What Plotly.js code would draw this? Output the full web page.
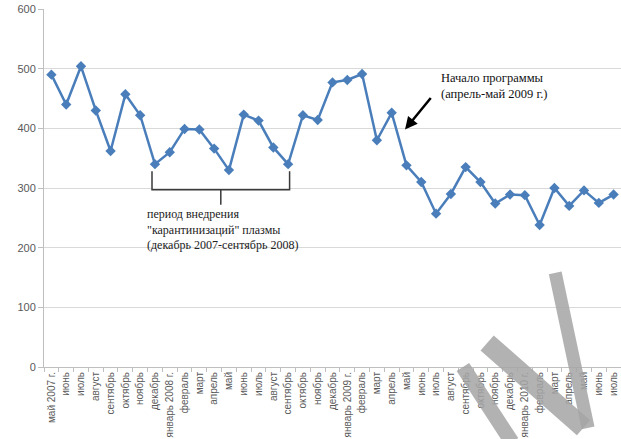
<!DOCTYPE html>
<html>
<head>
<meta charset="utf-8">
<script src="https://cdn.plot.ly/plotly-3.0.1.min.js"></script>
<style>html,body{margin:0;padding:0;background:#fff;}#chart{width:621px;height:439px;}</style>
</head>
<body>
<div id="chart"></div>
<script>
const monthLabels = ["май 2007 г.","июнь","июль","август","сентябрь","октябрь","ноябрь","декабрь",
  "январь 2008 г.","февраль","март","апрель","май","июнь","июль","август","сентябрь","октябрь","ноябрь","декабрь",
  "январь 2009 г.","февраль","март","апрель","май","июнь","июль","август","сентябрь","октябрь","ноябрь","декабрь",
  "январь 2010 г.","февраль","март","апрель","май","июнь","июль"];
const values = [490,440,504,430,362,457,422,340,360,399,398,366,330,423,413,368,340,422,414,477,
  481,491,380,426,338,310,257,290,335,310,274,289,288,238,300,270,296,275,289];
const yTicks = [0,100,200,300,400,500,600];

const idx = monthLabels.map((_, i) => i);
const boundaries = monthLabels.map((_, i) => i - 0.5).concat([monthLabels.length - 0.5]);

const blue = '#4a7ebb';
const wm = 'rgba(165,165,165,0.85)';

const trace = {
  x: idx, y: values, type: 'scatter', mode: 'lines+markers',
  line: {color: blue, width: 2.5},
  marker: {symbol: 'diamond', size: 8, color: blue},
  hoverinfo: 'skip'
};

const layout = {
  width: 621, height: 439,
  margin: {l: 44, r: 0, t: 9, b: 72},
  paper_bgcolor: '#fff', plot_bgcolor: '#fff',
  showlegend: false,
  font: {family: 'Liberation Sans, Arial, sans-serif', color: '#595959'},
  xaxis: {
    range: [-0.5, monthLabels.length - 0.5],
    tickmode: 'array', tickvals: idx, ticktext: monthLabels,
    tickangle: -90, ticks: '', showgrid: false, zeroline: false,
    showline: true, linecolor: '#bfbfbf', linewidth: 1,
    tickfont: {size: 10, color: '#595959'},
    minor: {tickmode: 'array', tickvals: boundaries, ticks: 'outside', ticklen: 4, tickcolor: '#bfbfbf', showgrid: false},
    automargin: false
  },
  yaxis: {
    range: [0, 600], tickmode: 'array', tickvals: yTicks,
    ticks: 'outside', ticklen: 5, tickcolor: '#bfbfbf',
    showgrid: true, gridcolor: '#d9d9d9', gridwidth: 1,
    zeroline: false, showline: true, linecolor: '#bfbfbf', linewidth: 1,
    tickfont: {size: 11, color: '#595959'},
    automargin: false
  },
  shapes: [
    {type: 'path', xref: 'x', yref: 'y',
     path: 'M 6.8 328 L 6.8 297 L 16.1 297 L 16.1 328 M 11.45 297 L 11.45 272',
     line: {color: '#3a3a3a', width: 1.5}},
    {type: 'line', xref: 'paper', yref: 'paper', x0: 0.886, y0: 0.263, x1: 0.943, y1: -0.17,
     line: {color: wm, width: 13}, layer: 'above'},
    {type: 'line', xref: 'paper', yref: 'paper', x0: 0.768, y0: 0.067, x1: 0.935, y1: -0.17,
     line: {color: wm, width: 20}, layer: 'above'},
    {type: 'line', xref: 'paper', yref: 'paper', x0: 0.726, y0: 0.0, x1: 0.811, y1: -0.21,
     line: {color: wm, width: 15}, layer: 'above'}
  ],
  annotations: [
    {x: 23.9, y: 398, xref: 'x', yref: 'y', ax: 27, ay: -33,
     showarrow: true, arrowhead: 2, arrowsize: 1, arrowwidth: 2.5, arrowcolor: '#000', text: ''},
    {x: 26.2, y: 500, xref: 'x', yref: 'y', xanchor: 'left', yanchor: 'top', align: 'left',
     showarrow: false, text: 'Начало программы<br>(апрель-май 2009 г.)',
     font: {family: 'Liberation Serif, Times New Roman, serif', size: 12.5, color: '#111'}},
    {x: 6.3, y: 272, xref: 'x', yref: 'y', xanchor: 'left', yanchor: 'top', align: 'left',
     showarrow: false, text: 'период внедрения<br>"карантинизаций" плазмы<br>(декабрь 2007-сентябрь 2008)',
     font: {family: 'Liberation Serif, Times New Roman, serif', size: 12, color: '#222'}}
  ]
};

Plotly.newPlot('chart', [trace], layout, {staticPlot: true, displayModeBar: false});
</script>
</body>
</html>
